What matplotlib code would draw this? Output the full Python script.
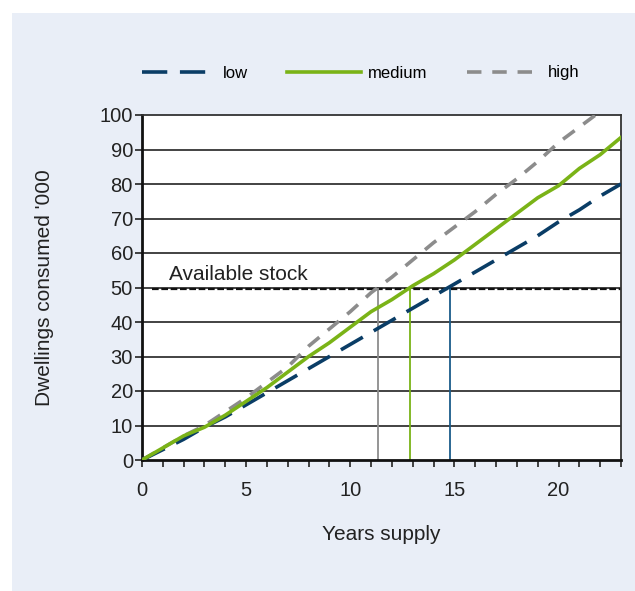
import matplotlib
matplotlib.use('Agg')
import matplotlib.pyplot as plt
from matplotlib.patches import Rectangle

years = list(range(0, 24))
low = [0, 3, 6, 9.5, 12.5, 16, 19.5, 23, 26.5, 30, 33.5, 37, 40.5, 44, 47.5, 51,
       54.5, 58, 61.5, 65, 69, 72.5, 76.5, 80]
medium = [0, 3.5, 7, 9.5, 13, 17, 21, 25.5, 30, 34, 38.5, 43, 46.5, 50.5, 54, 58,
          62.5, 67, 71.5, 76, 79.5, 84.5, 88.5, 93.5]
high = [0, 3.5, 7, 10, 14, 18, 22.5, 27, 33, 38, 43, 48.5, 53, 58, 63, 67.5,
        72, 77, 81.5, 86.5, 92, 96.5, 101, 105.5]
stock = 50
cross_high, cross_med, cross_low = 11.35, 12.85, 14.8

c_low = '#0a3d66'
c_med = '#7ab317'
c_high = '#8c8c8c'
panel = '#e9eef7'

plt.rcParams['font.family'] = ['Liberation Sans', 'DejaVu Sans']

fig = plt.figure(figsize=(6.35, 5.91), dpi=100)
fig.patches.append(Rectangle((12/635, 0), 1, 1 - 13/591, transform=fig.transFigure,
                             facecolor=panel, edgecolor='none', zorder=-5))
ax = fig.add_axes([142/635, 1 - 460/591, (621-142)/635, (460-115)/591])
ax.set_zorder(2)
ax.set_facecolor('white')

for yv in range(10, 100, 10):
    ax.axhline(yv, color='#222222', lw=1.2, zorder=1)

ax.plot(years, low, color=c_low, lw=2.6, dashes=(7, 3.5), label='low', zorder=4)
ax.plot(years, medium, color=c_med, lw=2.6, label='medium', zorder=5)
ax.plot(years, high, color=c_high, lw=2.6, dashes=(4, 3), label='high', zorder=3)

ax.plot([0.5, 23], [stock - 0.4, stock - 0.4], color='#111111', lw=1.6, dashes=(3, 1.2), zorder=2)
ax.vlines(cross_high, 0, stock, color=c_high, lw=1.3, zorder=2)
ax.vlines(cross_med, 0, stock, color=c_med, lw=1.3, zorder=2)
ax.vlines(cross_low, 0, stock, color='#1a5c8a', lw=1.3, zorder=2)
ax.text(1.3, 52.3, 'Available stock', fontsize=15, color='#222222')

ax.set_xlim(0, 23)
ax.set_ylim(0, 100)
ax.set_xticks(range(0, 24), minor=True)
ax.set_xticks([0, 5, 10, 15, 20])
ax.set_yticks(range(0, 101, 10))
ax.tick_params(axis='both', which='both', direction='out', length=5, width=1.2,
               labelsize=14.5, colors='#222222')
ax.tick_params(axis='x', which='major', pad=10)
ax.tick_params(axis='y', pad=1.5)
for s in ['left', 'bottom']:
    ax.spines[s].set_linewidth(2)
    ax.spines[s].set_color('#111111')
for s in ['top', 'right']:
    ax.spines[s].set_linewidth(1.3)
    ax.spines[s].set_color('#333333')

ax.set_xlabel('Years supply', fontsize=15, color='#222222', labelpad=18)
ax.set_ylabel("Dwellings consumed '000", fontsize=15, color='#222222', labelpad=33)

fig.legend(loc='center', bbox_to_anchor=(0.568, 1 - 73/591), ncol=3, frameon=False,
           fontsize=12, handlelength=4.4, columnspacing=2.35, handletextpad=0.45)

fig.savefig('out.png', dpi=100)
